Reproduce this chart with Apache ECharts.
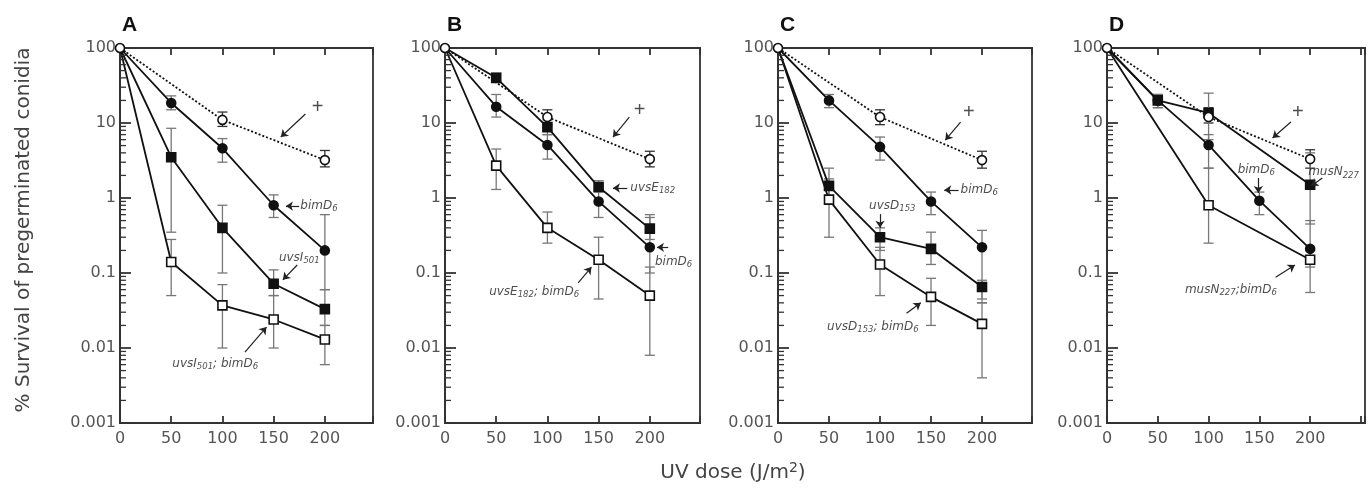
<!DOCTYPE html>
<html><head><meta charset="utf-8">
<script src="https://cdn.jsdelivr.net/npm/echarts@6/dist/echarts.min.js"></script>
<style>html,body{margin:0;padding:0;background:#fff}#c{width:1372px;height:493px}</style>
</head><body><div id="c"></div>
<script>
// ---------- data ----------
const doses = [0, 50, 100, 150, 200];
const yTickLabels = ['0.001', '0.01', '0.1', '1', '10', '100'];
const panelLetters = ['A', 'B', 'C', 'D'];

// Panel A
const A_wt = [100, null, 11, null, 3.2];
const A_wtLo = [null, null, 9, null, 2.6];
const A_wtHi = [null, null, 14, null, 4.3];
const A_bim = [100, 18.5, 4.6, 0.8, 0.2];
const A_bimLo = [null, 15, 3, 0.55, 0.06];
const A_bimHi = [null, 23, 6.2, 1.1, 0.6];
const A_mut = [100, 3.5, 0.4, 0.072, 0.033];
const A_mutLo = [null, 0.35, 0.1, 0.05, 0.02];
const A_mutHi = [null, 8.5, 0.8, 0.11, 0.06];
const A_dbl = [100, 0.14, 0.037, 0.024, 0.013];
const A_dblLo = [null, 0.05, 0.01, 0.01, 0.006];
const A_dblHi = [null, 0.28, 0.07, 0.05, 0.02];

// Panel B
const B_wt = [100, null, 12, null, 3.3];
const B_wtLo = [null, null, 9.5, null, 2.6];
const B_wtHi = [null, null, 15, null, 4.2];
const B_bim = [100, 16.5, 5.1, 0.9, 0.22];
const B_bimLo = [null, 12, 3.3, 0.55, 0.1];
const B_bimHi = [null, 24, 7, 1.3, 0.55];
const B_mut = [100, 40, 8.8, 1.4, 0.39];
const B_mutLo = [null, 35, 7, 1.2, 0.28];
const B_mutHi = [null, 46, 11, 1.7, 0.6];
const B_dbl = [100, 2.7, 0.4, 0.15, 0.05];
const B_dblLo = [null, 1.3, 0.25, 0.045, 0.008];
const B_dblHi = [null, 4.5, 0.65, 0.3, 0.12];

// Panel C
const C_wt = [100, null, 12, null, 3.2];
const C_wtLo = [null, null, 9.5, null, 2.5];
const C_wtHi = [null, null, 15, null, 4.2];
const C_bim = [100, 20, 4.8, 0.9, 0.22];
const C_bimLo = [null, 16, 3.2, 0.6, 0.04];
const C_bimHi = [null, 24, 6.5, 1.2, 0.37];
const C_mut = [100, 1.45, 0.3, 0.21, 0.065];
const C_mutLo = [null, 0.9, 0.2, 0.13, 0.045];
const C_mutHi = [null, 2.5, 0.4, 0.35, 0.08];
const C_dbl = [100, 0.95, 0.13, 0.048, 0.021];
const C_dblLo = [null, 0.3, 0.05, 0.02, 0.004];
const C_dblHi = [null, 1.8, 0.22, 0.085, 0.04];

// Panel D
const D_wt = [100, null, 12, null, 3.3];
const D_wtLo = [null, null, 10, null, 2.5];
const D_wtHi = [null, null, 16, null, 4.4];
const D_bim = [100, 20, 5.1, 0.92, 0.21];
const D_bimLo = [null, 16, 2.5, 0.6, 0.12];
const D_bimHi = [null, 24, 7, 1.2, 0.5];
const D_mut = [100, 20, 13.6, null, 1.5];
const D_mutLo = [null, 16, 6, null, 0.45];
const D_mutHi = [null, 24, 25, null, 4];
const D_dbl = [100, null, 0.8, null, 0.15];
const D_dblLo = [null, null, 0.25, null, 0.055];
const D_dblHi = [null, null, 2.5, null, 0.2];

// annotations: [text, dose, survival, align]
const A_notes = [['{p|+}', 193, 16, 'center'], ['{i|bimD}{s|6}', 176, 0.78, 'left'],
  ['{i|uvsI}{s|501}', 175, 0.16, 'center'], ['{i|uvsI}{s|501}{i|; bimD}{s|6}', 93, 0.0062, 'center']];
const A_arrows = [[[181, 13.2], [157, 6.5]], [[175, 0.78], [162, 0.78]],
  [[173, 0.128], [159, 0.081]], [[122, 0.0088], [143, 0.019]]];
const B_notes = [['{p|+}', 190, 14.9, 'center'], ['{i|uvsE}{s|182}', 181, 1.36, 'left'],
  ['{i|bimD}{s|6}', 205, 0.14, 'left'], ['{i|uvsE}{s|182}{i|; bimD}{s|6}', 87, 0.056, 'center']];
const B_arrows = [[[180, 12], [164, 6.5]], [[178, 1.36], [164, 1.36]],
  [[218, 0.22], [207, 0.22]], [[130, 0.074], [143, 0.12]]];
const C_notes = [['{p|+}', 187, 14, 'center'], ['{i|bimD}{s|6}', 179, 1.28, 'left'],
  ['{i|uvsD}{s|153}', 112, 0.78, 'center'], ['{i|uvsD}{s|153}{i|; bimD}{s|6}', 93, 0.019, 'center']];
const C_arrows = [[[179, 10.3], [164, 5.9]], [[177, 1.28], [163, 1.28]],
  [[100, 0.61], [100, 0.4]], [[126, 0.029], [140, 0.04]]];
const D_notes = [['{p|+}', 188, 14, 'center'], ['{i|bimD}{s|6}', 147, 2.36, 'center'],
  ['{i|musN}{s|227}', 223, 2.2, 'center'], ['{i|musN}{s|227}{i|;bimD}{s|6}', 122, 0.059, 'center']];
const D_arrows = [[[181, 10.3], [163, 6.3]], [[149, 1.85], [149, 1.17]],
  [[212, 1.85], [201, 1.45]], [[166, 0.088], [185, 0.128]]];

// ---------- layout ----------
const FONT = 'DejaVu Sans, Liberation Sans, sans-serif';
const panels = [
  { left: 120, width: 253, xMax: 247,
    wt: [A_wt, A_wtLo, A_wtHi], bim: [A_bim, A_bimLo, A_bimHi], mut: [A_mut, A_mutLo, A_mutHi], dbl: [A_dbl, A_dblLo, A_dblHi],
    notes: A_notes, arrows: A_arrows },
  { left: 445, width: 255, xMax: 249,
    wt: [B_wt, B_wtLo, B_wtHi], bim: [B_bim, B_bimLo, B_bimHi], mut: [B_mut, B_mutLo, B_mutHi], dbl: [B_dbl, B_dblLo, B_dblHi],
    notes: B_notes, arrows: B_arrows },
  { left: 778, width: 254, xMax: 249,
    wt: [C_wt, C_wtLo, C_wtHi], bim: [C_bim, C_bimLo, C_bimHi], mut: [C_mut, C_mutLo, C_mutHi], dbl: [C_dbl, C_dblLo, C_dblHi],
    notes: C_notes, arrows: C_arrows },
  { left: 1107, width: 258, xMax: 254,
    wt: [D_wt, D_wtLo, D_wtHi], bim: [D_bim, D_bimLo, D_bimHi], mut: [D_mut, D_mutLo, D_mutHi], dbl: [D_dbl, D_dblLo, D_dblHi],
    notes: D_notes, arrows: D_arrows }
];
const TOP = 48, HEIGHT = 375;

const minorTicks = [];
for (let e = -3; e < 2; e++) for (let m = 2; m <= 9; m++) minorTicks.push([0, m * Math.pow(10, e)]);

const styles = {
  wt:  { symbol: 'circle', size: 9, fill: '#fff', dash: [2, 2] },
  bim: { symbol: 'circle', size: 9, fill: '#111', dash: 'solid' },
  mut: { symbol: 'rect',   size: 9, fill: '#111', dash: 'solid' },
  dbl: { symbol: 'rect',   size: 9, fill: '#fff', dash: 'solid' }
};

const grid = [], xAxis = [], yAxis = [], series = [], title = [];
panels.forEach((p, i) => {
  grid.push({ left: p.left, top: TOP, width: p.width, height: HEIGHT, show: true,
    borderColor: '#333', borderWidth: 1.8, backgroundColor: 'transparent' });
  xAxis.push({ type: 'value', gridIndex: i, min: 0, max: p.xMax, interval: 50,
    axisLine: { lineStyle: { color: '#333', width: 2 } },
    axisTick: { inside: true, length: 7, lineStyle: { color: '#333', width: 1.8 } },
    splitLine: { show: false },
    axisLabel: { margin: 8, fontSize: 16, color: '#555', fontFamily: FONT,
      formatter: v => (v <= 200 ? String(v) : '') } });
  xAxis.push({ type: 'value', gridIndex: i, position: 'top', min: 0, max: p.xMax, interval: 50,
    axisLine: { lineStyle: { color: '#333', width: 2 } },
    axisTick: { inside: true, length: 7, lineStyle: { color: '#333', width: 1.8 } },
    splitLine: { show: false }, axisLabel: { show: false } });
  yAxis.push({ type: 'log', logBase: 10, gridIndex: i, min: 0.001, max: 100,
    axisLine: { lineStyle: { color: '#333', width: 2 } },
    axisTick: { inside: true, length: 11, lineStyle: { color: '#333', width: 1.8 } },
    splitLine: { show: false },
    axisLabel: { margin: 4, fontSize: 16, color: '#555', fontFamily: FONT,
      formatter: v => yTickLabels[Math.round(Math.log10(v)) + 3] } });
  title.push({ text: panelLetters[i], left: p.left - 3, top: 10, padding: 5,
    textStyle: { fontSize: 21, fontWeight: 'bold', color: '#111', fontFamily: 'Liberation Sans, Arial, sans-serif' } });

  const xi = i * 2;
  series.push({ type: 'custom', xAxisIndex: xi, yAxisIndex: i, data: minorTicks, silent: true, clip: false, z: 5,
    renderItem: (params, api) => {
      const c = api.coord([0, api.value(1)]);
      return { type: 'line', shape: { x1: c[0], y1: c[1], x2: c[0] + 6, y2: c[1] },
        style: { stroke: '#333', lineWidth: 1.3 } };
    } });

  ['wt', 'bim', 'mut', 'dbl'].forEach(key => {
    const [vals, lo, hi] = p[key];
    const st = styles[key];
    const errData = [];
    doses.forEach((d, k) => { if (lo[k] != null && hi[k] != null) errData.push([d, lo[k], hi[k]]); });
    series.push({ type: 'custom', xAxisIndex: xi, yAxisIndex: i, data: errData, silent: true, z: 3,
      encode: { x: 0, y: [1, 2] },
      renderItem: (params, api) => {
        const a = api.coord([api.value(0), api.value(1)]);
        const b = api.coord([api.value(0), api.value(2)]);
        const w = 5;
        const s = { stroke: key === 'wt' ? '#333' : '#777', lineWidth: 1.3 };
        return { type: 'group', children: [
          { type: 'line', shape: { x1: a[0], y1: a[1], x2: b[0], y2: b[1] }, style: s },
          { type: 'line', shape: { x1: a[0] - w, y1: a[1], x2: a[0] + w, y2: a[1] }, style: s },
          { type: 'line', shape: { x1: b[0] - w, y1: b[1], x2: b[0] + w, y2: b[1] }, style: s }
        ] };
      } });
    const data = [];
    doses.forEach((d, k) => {
      if (vals[k] == null) return;
      if (d === 0 && key !== 'wt') data.push({ value: [d, vals[k]], symbol: 'none' });
      else data.push([d, vals[k]]);
    });
    series.push({ type: 'line', xAxisIndex: xi, yAxisIndex: i, data, z: key === 'wt' ? 6 : 4,
      symbol: st.symbol, symbolSize: st.size, showSymbol: true,
      lineStyle: { color: '#111', width: 1.8, type: st.dash },
      itemStyle: { color: st.fill, borderColor: '#111', borderWidth: 1.6 },
      emphasis: { disabled: true }, animation: false });
  });

  series.push({ type: 'scatter', xAxisIndex: xi, yAxisIndex: i, symbolSize: 0, z: 8, silent: true,
    data: p.notes.map(n => ({ value: [n[1], n[2]],
      label: { show: true, position: 'inside', align: n[3], verticalAlign: 'middle', formatter: n[0] } })),
    label: { rich: {
      i: { fontStyle: 'italic', fontSize: 12, color: '#222', fontFamily: FONT, lineHeight: 17 },
      s: { fontStyle: 'italic', fontSize: 8.5, color: '#222', fontFamily: FONT, lineHeight: 17, padding: [6, 0, 0, 0] },
      p: { fontSize: 20, color: '#222', fontFamily: 'Liberation Sans, Arial, sans-serif' }
    } },
    markLine: { silent: true, symbol: ['none', 'arrow'], symbolSize: 7, animation: false,
      label: { show: false }, lineStyle: { color: '#222', width: 1.2, type: 'solid' },
      data: p.arrows.map(a => [{ coord: a[0] }, { coord: a[1] }]) } });
});

const chart = echarts.init(document.getElementById('c'), null, { renderer: 'canvas' });
chart.setOption({
  animation: false,
  backgroundColor: '#fff',
  title, grid, xAxis, yAxis, series,
  graphic: [
    { type: 'text', x: 24, y: 230, rotation: Math.PI / 2,
      style: { text: '% Survival of pregerminated conidia', fontSize: 20, fontFamily: FONT, fill: '#444',
        align: 'center', verticalAlign: 'middle', textAlign: 'center', textVerticalAlign: 'middle' } },
    { type: 'text', x: 733, y: 473,
      style: { text: '{a|UV dose (J/m}{b|2}{a|)}', fill: '#444', align: 'center', verticalAlign: 'middle',
        textAlign: 'center', textVerticalAlign: 'middle',
        rich: { a: { fontSize: 20, fontFamily: FONT, fill: '#444', lineHeight: 26 },
                b: { fontSize: 14, fontFamily: FONT, fill: '#444', lineHeight: 26, padding: [0, 0, 9, 0] } } } }
  ]
});
</script>
</body></html>
